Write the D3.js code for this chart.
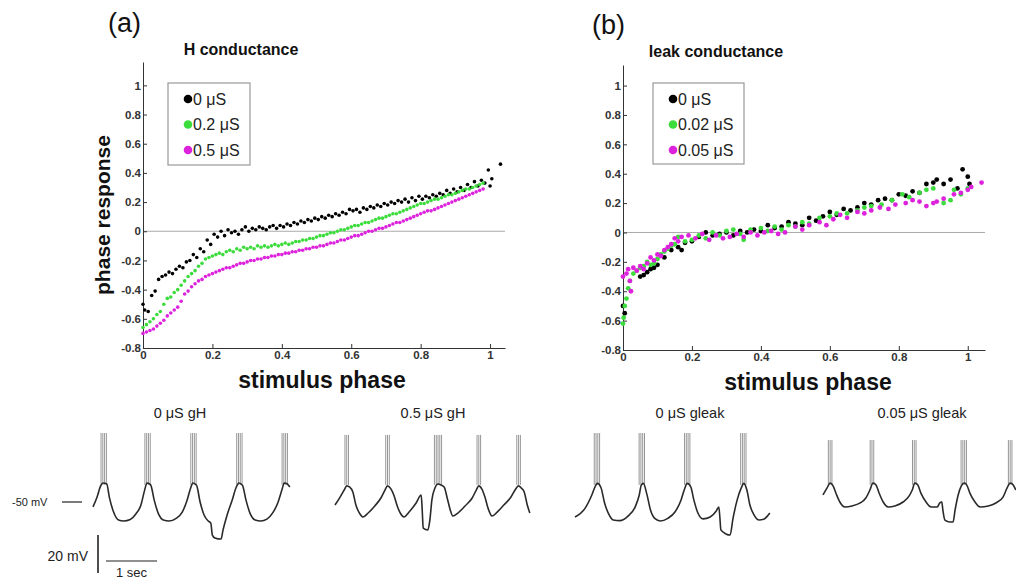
<!DOCTYPE html>
<html>
<head>
<meta charset="utf-8">
<script src="https://cdn.jsdelivr.net/npm/d3@7"></script>
<style>
  body { margin: 0; background: #fff; }
  svg { font-family: "Liberation Sans", Arial, sans-serif; }
  .axis path, .axis line { stroke: #333; }
  .axis text { font-weight: bold; font-size: 11.5px; fill: #333; }
</style>
</head>
<body>
<svg id="chart"></svg>
<script>
const w = 1016, h = 583;

// ---- phase response data ----
const tickY = [-0.8, -0.6, -0.4, -0.2, 0, 0.2, 0.4, 0.6, 0.8, 1];
const tickX = [0, 0.2, 0.4, 0.6, 0.8, 1];
const colors = ["#000000", "#3ddc3d", "#dd22dd"];
const labelsH = ["0 μS", "0.2 μS", "0.5 μS"];
const labelsLeak = ["0 μS", "0.02 μS", "0.05 μS"];

const h0 = [[0,-0.5],[0.005,-0.54],[0.015,-0.55],[0.025,-0.44],[0.035,-0.41],[0.045,-0.33],[0.055,-0.31],[0.065,-0.3],[0.075,-0.28],[0.085,-0.29],[0.095,-0.26],[0.105,-0.24],[0.115,-0.25],[0.125,-0.21],[0.135,-0.2],[0.145,-0.16],[0.155,-0.18],[0.165,-0.12],[0.175,-0.14],[0.185,-0.06],[0.195,-0.09],[0.205,-0.02],[0.215,-0.04],[0.225,0.0],[0.235,-0.03],[0.245,0.01],[0.255,-0.01],[0.265,0.0],[0.275,-0.02],[0.285,0.01],[0.295,0.03],[0.305,0.0],[0.315,0.02],[0.325,0.01],[0.335,0.03],[0.345,0.02],[0.355,0.01],[0.365,0.03],[0.375,0.04],[0.385,0.02],[0.395,0.04],[0.405,0.03],[0.415,0.05],[0.425,0.04],[0.435,0.06],[0.445,0.05],[0.455,0.07],[0.465,0.06],[0.475,0.08],[0.485,0.07],[0.495,0.09],[0.505,0.08],[0.515,0.1],[0.525,0.09],[0.535,0.11],[0.545,0.1],[0.555,0.12],[0.565,0.11],[0.575,0.13],[0.585,0.12],[0.595,0.15],[0.605,0.14],[0.615,0.15],[0.625,0.13],[0.635,0.16],[0.645,0.15],[0.655,0.17],[0.665,0.16],[0.675,0.18],[0.685,0.17],[0.695,0.19],[0.705,0.18],[0.715,0.2],[0.725,0.19],[0.735,0.21],[0.745,0.2],[0.755,0.22],[0.765,0.2],[0.775,0.23],[0.785,0.21],[0.795,0.24],[0.805,0.22],[0.815,0.24],[0.825,0.23],[0.835,0.25],[0.845,0.24],[0.855,0.26],[0.865,0.25],[0.875,0.28],[0.885,0.26],[0.895,0.29],[0.905,0.27],[0.915,0.3],[0.925,0.28],[0.935,0.32],[0.945,0.3],[0.955,0.34],[0.965,0.31],[0.975,0.35],[0.985,0.33],[0.995,0.42],[1.0,0.31],[1.005,0.36],[1.03,0.46]];

const h02 = [[0,-0.66],[0.01,-0.64],[0.02,-0.62],[0.03,-0.6],[0.04,-0.57],[0.05,-0.55],[0.06,-0.5],[0.07,-0.46],[0.08,-0.45],[0.09,-0.42],[0.1,-0.4],[0.11,-0.37],[0.12,-0.34],[0.13,-0.31],[0.14,-0.29],[0.15,-0.27],[0.16,-0.24],[0.17,-0.22],[0.18,-0.19],[0.19,-0.18],[0.2,-0.17],[0.21,-0.16],[0.22,-0.15],[0.23,-0.16],[0.24,-0.14],[0.25,-0.13],[0.26,-0.14],[0.27,-0.12],[0.28,-0.13],[0.29,-0.11],[0.3,-0.12],[0.31,-0.11],[0.32,-0.12],[0.33,-0.1],[0.34,-0.11],[0.35,-0.1],[0.36,-0.11],[0.37,-0.1],[0.38,-0.09],[0.39,-0.1],[0.4,-0.09],[0.41,-0.08],[0.42,-0.09],[0.43,-0.08],[0.44,-0.07],[0.45,-0.07],[0.46,-0.06],[0.47,-0.06],[0.48,-0.05],[0.49,-0.05],[0.5,-0.04],[0.51,-0.03],[0.52,-0.03],[0.53,-0.02],[0.54,-0.01],[0.55,-0.01],[0.56,0.0],[0.57,0.01],[0.58,0.01],[0.59,0.02],[0.6,0.03],[0.61,0.04],[0.62,0.04],[0.63,0.05],[0.64,0.06],[0.65,0.06],[0.66,0.07],[0.67,0.08],[0.68,0.09],[0.69,0.09],[0.7,0.1],[0.71,0.11],[0.72,0.12],[0.73,0.12],[0.74,0.13],[0.75,0.14],[0.76,0.15],[0.77,0.16],[0.78,0.17],[0.79,0.18],[0.8,0.19],[0.81,0.19],[0.82,0.2],[0.83,0.21],[0.84,0.22],[0.85,0.22],[0.86,0.23],[0.87,0.24],[0.88,0.25],[0.89,0.25],[0.9,0.26],[0.91,0.27],[0.92,0.28],[0.93,0.29],[0.94,0.29],[0.95,0.3],[0.96,0.31],[0.97,0.32],[0.98,0.33]];

const h05 = [[0,-0.7],[0.01,-0.69],[0.02,-0.68],[0.03,-0.67],[0.04,-0.65],[0.05,-0.63],[0.06,-0.61],[0.07,-0.58],[0.08,-0.56],[0.09,-0.54],[0.1,-0.52],[0.11,-0.48],[0.12,-0.43],[0.13,-0.41],[0.14,-0.38],[0.15,-0.36],[0.16,-0.34],[0.17,-0.33],[0.18,-0.31],[0.19,-0.3],[0.2,-0.29],[0.21,-0.28],[0.22,-0.27],[0.23,-0.26],[0.24,-0.25],[0.25,-0.25],[0.26,-0.24],[0.27,-0.23],[0.28,-0.22],[0.29,-0.22],[0.3,-0.21],[0.31,-0.2],[0.32,-0.2],[0.33,-0.19],[0.34,-0.19],[0.35,-0.18],[0.36,-0.18],[0.37,-0.17],[0.38,-0.17],[0.39,-0.16],[0.4,-0.16],[0.41,-0.15],[0.42,-0.15],[0.43,-0.14],[0.44,-0.14],[0.45,-0.13],[0.46,-0.13],[0.47,-0.12],[0.48,-0.12],[0.49,-0.11],[0.5,-0.11],[0.51,-0.1],[0.52,-0.1],[0.53,-0.09],[0.54,-0.08],[0.55,-0.08],[0.56,-0.07],[0.57,-0.06],[0.58,-0.06],[0.59,-0.05],[0.6,-0.04],[0.61,-0.03],[0.62,-0.03],[0.63,-0.02],[0.64,-0.01],[0.65,0.0],[0.66,0.0],[0.67,0.01],[0.68,0.02],[0.69,0.02],[0.7,0.03],[0.71,0.04],[0.72,0.05],[0.73,0.06],[0.74,0.06],[0.75,0.07],[0.76,0.08],[0.77,0.09],[0.78,0.1],[0.79,0.11],[0.8,0.12],[0.81,0.13],[0.82,0.14],[0.83,0.14],[0.84,0.15],[0.85,0.16],[0.86,0.17],[0.87,0.18],[0.88,0.19],[0.89,0.2],[0.9,0.21],[0.91,0.22],[0.92,0.23],[0.93,0.24],[0.94,0.25],[0.95,0.26],[0.96,0.27],[0.97,0.28],[0.98,0.29]];

const leak0 = [[0,-0.5],[0.005,-0.55],[0.05,-0.3],[0.06,-0.29],[0.07,-0.27],[0.08,-0.25],[0.09,-0.24],[0.1,-0.22],[0.12,-0.17],[0.14,-0.12],[0.16,-0.1],[0.17,-0.12],[0.18,-0.07],[0.2,-0.06],[0.22,-0.03],[0.24,0.0],[0.26,-0.02],[0.28,-0.01],[0.3,0.0],[0.32,-0.02],[0.34,0.01],[0.36,0.0],[0.38,0.02],[0.4,0.01],[0.42,0.05],[0.44,0.03],[0.46,0.04],[0.48,0.07],[0.5,0.06],[0.52,0.05],[0.54,0.1],[0.56,0.08],[0.58,0.11],[0.6,0.14],[0.62,0.12],[0.64,0.16],[0.66,0.15],[0.68,0.17],[0.7,0.2],[0.72,0.19],[0.74,0.22],[0.76,0.23],[0.78,0.22],[0.8,0.26],[0.82,0.25],[0.84,0.28],[0.86,0.27],[0.88,0.33],[0.9,0.34],[0.91,0.36],[0.93,0.33],[0.95,0.36],[0.97,0.3],[0.985,0.43],[1.0,0.38],[1.005,0.33]];

const leak002 = [[0,-0.62],[0.002,-0.58],[0.005,-0.5],[0.01,-0.45],[0.015,-0.38],[0.02,-0.33],[0.03,-0.28],[0.04,-0.26],[0.05,-0.24],[0.06,-0.23],[0.07,-0.2],[0.08,-0.22],[0.09,-0.21],[0.1,-0.18],[0.11,-0.15],[0.12,-0.13],[0.13,-0.11],[0.14,-0.09],[0.15,-0.08],[0.16,-0.03],[0.18,-0.06],[0.2,-0.05],[0.22,-0.02],[0.24,-0.04],[0.26,0.0],[0.28,-0.02],[0.3,0.01],[0.32,0.02],[0.34,-0.01],[0.35,-0.05],[0.37,0.02],[0.4,0.03],[0.42,0.01],[0.44,0.04],[0.46,0.02],[0.48,0.05],[0.5,0.04],[0.52,0.07],[0.54,0.06],[0.57,0.1],[0.6,0.11],[0.62,0.13],[0.65,0.13],[0.68,0.15],[0.7,0.17],[0.72,0.18],[0.75,0.19],[0.78,0.22],[0.81,0.26],[0.83,0.24],[0.86,0.27],[0.88,0.29],[0.9,0.3],[0.93,0.2],[0.95,0.22],[0.96,0.29],[0.98,0.26],[1.0,0.3]];

const leak005 = [[0,-0.3],[0.01,-0.28],[0.015,-0.25],[0.02,-0.33],[0.023,-0.4],[0.03,-0.24],[0.04,-0.26],[0.05,-0.23],[0.06,-0.25],[0.07,-0.21],[0.08,-0.17],[0.09,-0.19],[0.1,-0.15],[0.11,-0.16],[0.12,-0.12],[0.13,-0.1],[0.14,-0.08],[0.15,-0.04],[0.16,-0.06],[0.17,-0.03],[0.19,-0.02],[0.21,-0.04],[0.23,-0.01],[0.25,-0.05],[0.27,-0.02],[0.29,-0.04],[0.31,-0.03],[0.33,-0.01],[0.35,-0.03],[0.37,0.0],[0.39,-0.02],[0.41,0.0],[0.43,0.01],[0.45,-0.01],[0.47,0.0],[0.5,0.04],[0.52,0.02],[0.54,0.05],[0.57,0.07],[0.59,0.05],[0.61,0.09],[0.63,0.12],[0.65,0.1],[0.68,0.14],[0.7,0.13],[0.72,0.15],[0.745,0.17],[0.77,0.16],[0.79,0.19],[0.82,0.2],[0.84,0.22],[0.86,0.21],[0.88,0.18],[0.9,0.2],[0.91,0.21],[0.93,0.23],[0.96,0.26],[0.98,0.27],[1.0,0.29],[1.01,0.31],[1.04,0.34]];

// ---- voltage traces: [time s, mV] slow wave, bursts [time s, spike count] ----
const traceTitles = ["0 μS gH", "0.5 μS gH", "0 μS gleak", "0.05 μS gleak"];
const wave1 = [[0,-52.6],[0.08,-47.4],[0.15,-41.5],[0.2,-40],[0.27,-40.5],[0.32,-47.4],[0.4,-55],[0.5,-59.5],[0.6,-60],[0.73,-59.2],[0.84,-56.3],[0.94,-51.6],[1.01,-44],[1.06,-40],[1.13,-41],[1.2,-49],[1.28,-56],[1.38,-59.5],[1.49,-60],[1.63,-58.6],[1.75,-55.3],[1.84,-49.5],[1.91,-43],[1.96,-40],[2.03,-41.2],[2.1,-50],[2.18,-57],[2.26,-60],[2.31,-61.1],[2.34,-67.4],[2.39,-68.9],[2.51,-69.5],[2.55,-64.7],[2.63,-56.8],[2.73,-48.9],[2.81,-42.1],[2.86,-40],[2.93,-41.2],[3.0,-49],[3.08,-56],[3.18,-59.5],[3.29,-60],[3.41,-59],[3.53,-55.5],[3.63,-50],[3.7,-44],[3.75,-40],[3.81,-40.5],[3.86,-42.1]];
const wave2 = [[0,-51.6],[0.1,-47.4],[0.18,-43.7],[0.23,-41.5],[0.29,-42.2],[0.35,-44.7],[0.41,-51.6],[0.49,-56.3],[0.55,-57.9],[0.65,-55.8],[0.78,-52.1],[0.9,-47.9],[0.98,-43.7],[1.03,-41.5],[1.1,-43.2],[1.16,-46.8],[1.22,-52.1],[1.28,-55.8],[1.35,-57.9],[1.47,-54.7],[1.59,-50.5],[1.69,-46.3],[1.71,-54.2],[1.73,-63.7],[1.82,-64.7],[1.86,-59.5],[1.9,-48.9],[1.96,-42.6],[2.02,-40.5],[2.08,-41.1],[2.14,-42.1],[2.2,-47.9],[2.26,-54.2],[2.31,-57.4],[2.41,-55.8],[2.55,-52.1],[2.69,-47.9],[2.77,-43.7],[2.82,-41.5],[2.88,-43.2],[2.94,-47.4],[3.0,-53.2],[3.08,-57.4],[3.18,-55.3],[3.31,-51.6],[3.45,-47.4],[3.53,-43.7],[3.6,-41.5],[3.65,-42.6],[3.71,-44.7],[3.77,-51.6],[3.82,-55.8]];
const wave3 = [[0,-57.9],[0.2,-53.2],[0.33,-46.3],[0.4,-41.6],[0.44,-40.2],[0.51,-42.5],[0.58,-50.5],[0.66,-56.3],[0.75,-59.5],[0.88,-59.8],[1.04,-57.4],[1.18,-52.6],[1.26,-46.3],[1.3,-41.1],[1.34,-40.2],[1.41,-46],[1.48,-54.2],[1.57,-58.8],[1.67,-60],[1.82,-58.6],[1.96,-55.3],[2.08,-48.9],[2.15,-43],[2.2,-40.2],[2.27,-42],[2.33,-48.9],[2.41,-55.8],[2.51,-58.9],[2.65,-57.9],[2.77,-54.7],[2.82,-52.6],[2.84,-57.9],[2.86,-64.7],[2.96,-66.8],[3.04,-67.4],[3.1,-58.4],[3.18,-48.9],[3.26,-42.6],[3.31,-40.2],[3.37,-43.7],[3.43,-51.6],[3.51,-56.8],[3.61,-59.5],[3.71,-58.9],[3.82,-55.8]];
const wave4 = [[0,-46.3],[0.08,-42.6],[0.14,-40],[0.2,-41.6],[0.26,-45.8],[0.33,-50],[0.43,-52.6],[0.57,-52.1],[0.73,-50.5],[0.84,-47.9],[0.92,-43.7],[0.98,-40],[1.04,-41.1],[1.1,-45.3],[1.18,-50],[1.28,-52.6],[1.41,-52.1],[1.57,-50],[1.69,-46.8],[1.75,-43.7],[1.8,-40],[1.86,-41.1],[1.92,-45.3],[2.02,-50],[2.12,-52.6],[2.24,-52.6],[2.29,-50.5],[2.33,-50],[2.35,-54.2],[2.39,-59.5],[2.49,-60.5],[2.55,-60.5],[2.59,-54.2],[2.65,-46.3],[2.71,-41.6],[2.77,-40],[2.82,-41.1],[2.88,-45.3],[2.98,-50],[3.08,-52.6],[3.24,-52.1],[3.39,-50.5],[3.53,-47.4],[3.61,-42.6],[3.67,-40],[3.73,-41.1],[3.78,-43.7]];
const bursts1 = [[0.21,4],[1.07,4],[1.97,4],[2.87,4],[3.76,4]];
const bursts2 = [[0.23,3],[1.03,3],[2.02,5],[2.82,3],[3.6,3]];
const bursts3 = [[0.43,4],[1.31,4],[2.2,4],[3.3,4]];
const bursts4 = [[0.14,3],[0.96,3],[1.79,3],[2.76,4],[3.67,3]];
const spikePeaks = [-13.7, -14.7, -13.7, -17.4];

const svg = d3.select("#chart").attr("width", w).attr("height", h).attr("viewBox", [0, 0, w, h]);
const fmt = d => String(+d.toFixed(1));

const buildPanel = (cfg) => {
  const x = d3.scaleLinear().domain(cfg.xDomain).range(cfg.xRange);
  const y = d3.scaleLinear().domain(cfg.yDomain).range(cfg.yRange);
  const g = svg.append("g");

  // zero line
  g.append("line")
    .attr("x1", x.range()[0]).attr("x2", x.range()[1])
    .attr("y1", y(0)).attr("y2", y(0))
    .attr("stroke", "#aaa").attr("stroke-width", 1);

  g.append("g").attr("class", "axis")
    .attr("transform", `translate(0,${cfg.yRange[0]})`)
    .call(d3.axisBottom(x).tickValues(tickX).tickFormat(fmt).tickSizeInner(-4).tickSizeOuter(0).tickPadding(3));
  g.append("g").attr("class", "axis")
    .attr("transform", `translate(${cfg.xRange[0]},0)`)
    .call(d3.axisLeft(y).tickValues(tickY).tickFormat(fmt).tickSizeInner(-4).tickSizeOuter(0).tickPadding(2));

  cfg.series.forEach((s, i) => {
    g.append("g").selectAll("circle").data(s).join("circle")
      .attr("cx", d => x(d[0])).attr("cy", d => y(d[1]))
      .attr("r", cfg.r).attr("fill", colors[i]);
  });

  // legend
  const lg = g.append("g");
  lg.append("rect").attr("x", cfg.legend[0]).attr("y", cfg.legend[1])
    .attr("width", cfg.legend[2]).attr("height", cfg.legend[3])
    .attr("fill", "#fff").attr("stroke", "#999").attr("stroke-width", 1.2);
  cfg.labels.forEach((l, i) => {
    const yy = cfg.legend[1] + 16 + i * 25.5;
    lg.append("circle").attr("cx", cfg.legend[0] + 20).attr("cy", yy).attr("r", 4.3).attr("fill", colors[i]);
    lg.append("text").attr("x", cfg.legend[0] + 25).attr("y", yy).attr("dy", "0.35em")
      .attr("font-size", 16).attr("fill", "#222").text(l);
  });

  // titles
  svg.append("text").attr("x", cfg.letter[0]).attr("y", cfg.letter[1])
    .attr("font-size", 27).attr("fill", "#111").text(cfg.letterText);
  svg.append("text").attr("x", cfg.title[0]).attr("y", cfg.title[1]).attr("text-anchor", "middle")
    .attr("font-size", 16).attr("font-weight", "bold").attr("fill", "#111").text(cfg.titleText);
  svg.append("text").attr("x", cfg.xLabel[0]).attr("y", cfg.xLabel[1]).attr("text-anchor", "middle")
    .attr("font-size", 23).attr("font-weight", "bold").attr("fill", "#111").text("stimulus phase");
};

buildPanel({
  xDomain: [0, 1.043], xRange: [143, 505],
  yDomain: [-0.8, 1.16], yRange: [348, 62],
  series: [h0, h02, h05], r: 1.8, labels: labelsH,
  legend: [168, 83, 82, 82],
  letter: [108, 32], letterText: "(a)",
  title: [241, 55], titleText: "H conductance",
  xLabel: [322, 388]
});
buildPanel({
  xDomain: [0, 1.05], xRange: [623, 985],
  yDomain: [-0.8, 1.14], yRange: [350, 65],
  series: [leak0, leak002, leak005], r: 2.4, labels: labelsLeak,
  legend: [653, 83, 91, 81],
  letter: [592, 34], letterText: "(b)",
  title: [716, 57], titleText: "leak conductance",
  xLabel: [808, 390]
});

svg.append("text")
  .attr("transform", "translate(110,215) rotate(-90)")
  .attr("text-anchor", "middle")
  .attr("font-size", 21).attr("font-weight", "bold").attr("fill", "#111")
  .text("phase response");

// ---- voltage traces ----
const v = d3.scaleLinear().domain([-50, -30]).range([502, 464]);
const traceStarts = [93, 335, 575, 823];
const titleX = [180, 433, 690, 922];
const waves = [wave1, wave2, wave3, wave4];
const bursts = [bursts1, bursts2, bursts3, bursts4];

waves.forEach((wave, k) => {
  const t = d3.scaleLinear().domain([0, 1]).range([traceStarts[k], traceStarts[k] + 51]);
  const g = svg.append("g");
  g.append("text").attr("x", titleX[k]).attr("y", 418).attr("text-anchor", "middle")
    .attr("font-size", 14.5).attr("fill", "#222").text(traceTitles[k]);
  bursts[k].forEach(([bt, n]) => {
    d3.range(n).forEach(j => {
      const tt = bt + (j - (n - 1) / 2) * 0.035;
      g.append("line")
        .attr("x1", t(tt)).attr("x2", t(tt))
        .attr("y1", v(-41)).attr("y2", v(spikePeaks[k]))
        .attr("stroke", "#8a8a8a").attr("stroke-width", 0.9);
    });
  });
  g.append("path").datum(wave)
    .attr("d", d3.line().x(d => t(d[0])).y(d => v(d[1])).curve(d3.curveMonotoneX))
    .attr("fill", "none").attr("stroke", "#2a2a2a").attr("stroke-width", 1.6);
});

// -50 mV marker and scale bars
svg.append("text").attr("x", 12).attr("y", v(-50)).attr("dy", "0.35em")
  .attr("font-size", 11).attr("fill", "#222").text("-50 mV");
svg.append("line").attr("x1", 62).attr("x2", 82).attr("y1", v(-50)).attr("y2", v(-50))
  .attr("stroke", "#222").attr("stroke-width", 1.2);

const sbV = d3.scaleLinear().domain([0, 20]).range([573, 573 - (v(-50) - v(-30))]);
const sbT = d3.scaleLinear().domain([0, 1]).range([106, 157]);
svg.append("line").attr("x1", 98).attr("x2", 98).attr("y1", sbV(0)).attr("y2", sbV(20))
  .attr("stroke", "#222").attr("stroke-width", 1.6);
svg.append("line").attr("x1", sbT(0)).attr("x2", sbT(1)).attr("y1", 561).attr("y2", 561)
  .attr("stroke", "#222").attr("stroke-width", 1.2);
svg.append("text").attr("x", 88).attr("y", 561).attr("text-anchor", "end")
  .attr("font-size", 14).attr("fill", "#222").text("20 mV");
svg.append("text").attr("x", (sbT(0) + sbT(1)) / 2).attr("y", 577).attr("text-anchor", "middle")
  .attr("font-size", 13).attr("fill", "#222").text("1 sec");
</script>
</body>
</html>
